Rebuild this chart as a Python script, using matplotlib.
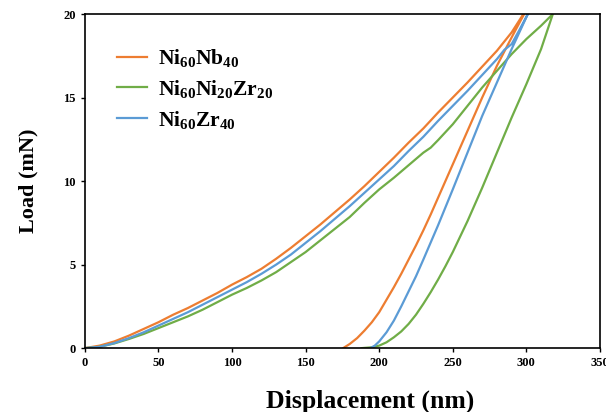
import matplotlib
matplotlib.use("Agg")
import matplotlib.pyplot as plt

# loading branches (displacement nm, load mN)
nb_load_x = [0, 10, 20, 30, 40, 50, 60, 70, 80, 90, 100, 110, 120, 130, 140, 150, 160, 170, 180, 190,
             200, 210, 220, 230, 240, 250, 260, 270, 280, 290, 298]
nb_load_y = [0, 0.15, 0.4, 0.75, 1.15, 1.55, 2.0, 2.4, 2.85, 3.3, 3.8, 4.25, 4.75, 5.35, 6.0, 6.7, 7.4, 8.15, 8.9, 9.7,
             10.55, 11.4, 12.3, 13.15, 14.1, 15.0, 15.9, 16.85, 17.8, 18.9, 20]
zr_load_x = [0, 10, 20, 30, 40, 50, 60, 70, 80, 90, 100, 110, 120, 130, 140, 150, 160, 170, 180, 190,
             200, 210, 220, 230, 240, 250, 260, 270, 280, 285, 290, 295, 301]
zr_load_y = [0, 0.08, 0.3, 0.6, 0.95, 1.35, 1.75, 2.15, 2.6, 3.05, 3.5, 3.95, 4.45, 5.0, 5.6, 6.3, 7.0, 7.75, 8.5, 9.3,
             10.1, 10.9, 11.8, 12.65, 13.6, 14.5, 15.4, 16.35, 17.3, 17.85, 18.2, 19.0, 20]
nizr_load_x = [0, 10, 20, 30, 40, 50, 60, 70, 80, 90, 100, 110, 120, 130, 140, 150, 160, 170, 180, 190,
               200, 210, 220, 230, 235, 240, 250, 260, 270, 280, 290, 300, 310, 318]
nizr_load_y = [0, 0.08, 0.28, 0.55, 0.85, 1.2, 1.55, 1.9, 2.3, 2.75, 3.2, 3.6, 4.05, 4.55, 5.15, 5.75, 6.45, 7.15, 7.85, 8.7,
               9.5, 10.2, 10.95, 11.7, 12.0, 12.45, 13.4, 14.5, 15.6, 16.6, 17.6, 18.5, 19.3, 20]

# unloading branches
nb_unl_x = [298.5, 290, 280, 270, 260, 250, 245, 240, 235, 230, 225, 220, 215, 210, 205, 200, 195, 190, 185, 180, 175.5]
nb_unl_y = [20, 18.6, 16.9, 15.0, 13.0, 11.0, 10.0, 9.0, 8.0, 7.05, 6.15, 5.3, 4.45, 3.65, 2.9, 2.15, 1.55, 1.05, 0.6, 0.25, 0]
zr_unl_x = [301, 290, 280, 270, 260, 250, 240, 230, 225, 220, 215, 210, 205, 200, 197, 194]
zr_unl_y = [20, 17.9, 15.9, 13.9, 11.7, 9.5, 7.35, 5.3, 4.3, 3.4, 2.5, 1.65, 0.95, 0.4, 0.15, 0]
nizr_unl_x = [318, 310, 300, 290, 280, 270, 260, 250, 245, 240, 235, 230, 225, 220, 215, 210, 205, 200, 195, 188]
nizr_unl_y = [20, 17.9, 15.8, 13.8, 11.7, 9.6, 7.6, 5.75, 4.9, 4.1, 3.35, 2.65, 2.0, 1.45, 1.0, 0.65, 0.35, 0.15, 0.05, 0]

labels = [r'Ni$_{60}$Nb$_{40}$', r'Ni$_{60}$Ni$_{20}$Zr$_{20}$', r'Ni$_{60}$Zr$_{40}$']
colors = ['#ED7D31', '#70AD47', '#5B9BD5']

plt.rcParams['font.family'] = 'Liberation Serif'
plt.rcParams['font.weight'] = 'bold'
plt.rcParams['mathtext.fontset'] = 'custom'
plt.rcParams['mathtext.rm'] = 'Liberation Serif:bold'
plt.rcParams['mathtext.it'] = 'Liberation Serif:bold'
plt.rcParams['mathtext.bf'] = 'Liberation Serif:bold'

fig = plt.figure(figsize=(6.06, 4.12), dpi=100)
ax = fig.add_axes([0.140, 0.155, 0.850, 0.811])

curves = [
    (nb_load_x + nb_unl_x, nb_load_y + nb_unl_y),
    (nizr_load_x + nizr_unl_x, nizr_load_y + nizr_unl_y),
    (zr_load_x + zr_unl_x, zr_load_y + zr_unl_y),
]
for (xs, ys), lab, c in zip(curves, labels, colors):
    ax.plot(xs, ys, color=c, lw=1.6, label=lab)

ax.set_xlim(0, 350)
ax.set_ylim(0, 20)
ax.set_xticks(range(0, 351, 50))
ax.set_yticks(range(0, 21, 5))
ax.tick_params(direction='out', length=3, width=1, labelsize=9)
for lbl in ax.get_xticklabels() + ax.get_yticklabels():
    lbl.set_fontweight('bold')
for s in ax.spines.values():
    s.set_linewidth(1.2)
    s.set_color('black')

ax.set_xlabel('Displacement (nm)', fontsize=18.5, fontweight='bold')
ax.xaxis.set_label_coords(0.553, -0.125)
ax.set_ylabel('Load (mN)', fontsize=16, fontweight='bold', labelpad=18)

ax.legend(loc='upper left', bbox_to_anchor=(0.063, 0.90), frameon=False,
          prop={'family': 'Liberation Serif', 'weight': 'bold', 'size': 15.5},
          handlelength=1.4, labelspacing=0.4, handletextpad=0.5,
          borderpad=0, borderaxespad=0)

fig.savefig('out.png', dpi=100)
